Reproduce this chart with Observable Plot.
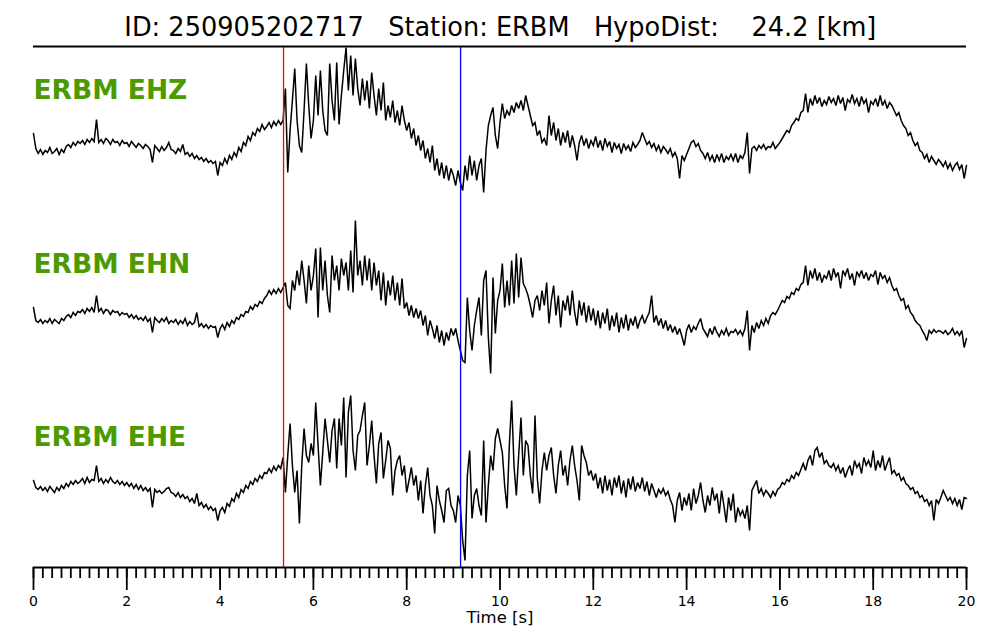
<!DOCTYPE html>
<html><head><meta charset="utf-8">
<script src="https://cdn.jsdelivr.net/npm/d3@7"></script>
<script src="https://cdn.jsdelivr.net/npm/@observablehq/plot@0.6"></script>
<style>
html,body{margin:0;padding:0;background:#fff;}
#title{width:1000px;height:40px;box-sizing:border-box;padding-top:14px;text-align:center;font-family:"DejaVu Sans",sans-serif;font-size:26.5px;line-height:1;white-space:pre;color:#000;overflow:visible;}
#title span{display:inline-block;transform-origin:50% 50%;}
#chart svg{display:block;}
</style></head><body>
<div id="title"><span id="tt">ID: 250905202717   Station: ERBM   HypoDist:    24.2 [km]</span></div>
<div id="chart"></div>
<script>
// ---- data ----
const channels = ["ERBM EHZ", "ERBM EHN", "ERBM EHE"];
const sampleInterval = 0.05; // s
const ehz = [
17,2,-3,1,-4,0,-2,3,-3,-1,2,-4,1,-2,4,6,3,8,5,9,
7,10,6,11,8,12,9,31,8,11,7,12,10,6,11,8,9,5,10,7,
8,4,9,6,3,7,5,2,6,4,1,-12,5,2,-1,4,0,3,8,1,
0,-3,2,-1,6,-4,-2,-6,-3,-8,-5,-9,-7,-11,-8,-12,-10,-13,-11,-25,
-12,-15,-8,-13,-5,-9,-2,-6,3,-1,8,5,14,10,18,15,22,19,26,21,
24,28,23,29,25,30,26,30,62,-22,20,50,82,30,5,-2,40,87,45,12,
30,75,35,80,40,20,15,87,50,30,88,26,55,80,103,60,95,55,92,62,
45,72,50,70,42,78,55,35,62,40,68,30,45,33,50,28,40,25,45,30,
20,28,12,22,5,15,0,10,-8,2,-12,5,-20,-8,-25,-12,-28,-15,-30,-18,
-25,-35,-20,-32,-40,-15,-30,-5,-25,-10,-30,-15,-8,-42,0,25,35,43,15,2,
28,47,32,40,35,45,38,48,42,50,40,55,45,35,25,28,15,20,8,12,
5,35,15,28,10,22,5,18,8,20,3,15,5,-10,8,15,5,12,2,10,
5,14,3,10,0,12,4,9,-2,8,2,6,-3,7,1,5,-1,8,3,6,
10,18,12,6,9,3,7,0,5,-2,4,1,-3,2,-6,-2,-8,-28,-5,-10,
-4,2,8,10,4,7,0,-3,-8,-2,-10,-5,-12,-4,-10,-3,-12,-6,-9,-4,
-10,-3,-12,-5,-8,-2,18,-23,2,4,0,5,2,6,1,4,3,8,2,5,
8,12,16,20,18,25,28,32,30,38,40,57,38,52,45,55,47,53,44,50,
46,54,48,52,45,55,47,53,40,51,48,56,47,52,44,54,47,51,38,49,
46,52,44,55,45,50,42,48,45,40,35,38,30,25,22,15,18,10,5,8,
0,-2,-8,-4,-12,-6,-10,-14,-9,-12,-16,-11,-18,-13,-20,-15,-12,-19,-14,-28,-15
];
const ehn = [
13,0,-2,1,-3,0,-2,2,-3,1,-1,-3,2,0,4,6,3,8,5,9,
8,11,7,12,9,13,8,25,9,12,7,11,10,6,10,8,9,5,8,6,
7,3,6,2,5,1,3,0,4,-1,2,-12,3,0,-2,2,-1,3,-3,0,
-2,1,-4,0,-3,2,-5,-1,-4,-2,8,-6,-3,-7,-4,-8,-5,-7,-6,-17,
-8,-4,-9,-2,-6,0,-3,3,1,6,4,9,8,14,11,16,14,19,17,22,
25,30,26,31,27,32,28,33,38,15,12,40,30,50,35,60,40,17,55,30,
45,72,3,73,30,60,25,8,65,40,55,30,62,45,58,30,70,28,100,45,
60,35,65,40,62,30,58,35,50,20,48,15,40,25,45,20,38,15,42,12,
18,5,15,3,12,2,10,-5,5,-15,0,-8,-18,-5,-22,-10,-25,-12,-20,-8,
-15,-8,-20,-30,-40,-42,23,-10,-30,-5,10,23,-15,40,50,-17,-53,43,-13,20,
30,57,13,40,15,60,17,67,23,63,37,32,25,15,3,20,25,10,30,15,
38,-3,20,35,5,25,-7,20,10,25,5,30,8,-5,20,5,18,-2,15,0,
12,-5,10,-8,8,-3,12,-10,5,-6,8,-12,3,-8,6,-10,2,-5,4,-8,
0,5,-3,3,8,25,-2,5,-5,2,-8,0,-10,-4,-12,-6,-14,-8,-16,-25,
-10,-4,-12,-6,-9,-3,2,-8,-12,-16,-8,-14,-6,-12,-16,-10,-14,-8,-15,-11,
-12,-9,-14,-10,-15,-8,10,-30,-5,-12,-2,-8,0,-5,2,-3,5,8,6,10,
15,20,18,24,22,28,26,32,30,36,38,55,35,50,42,52,40,48,38,45,
42,50,40,52,44,48,32,50,45,52,41,47,35,49,44,50,42,48,40,46,
44,50,36,48,42,45,38,43,35,30,32,25,20,22,12,15,8,5,0,-3,
-5,-10,-14,-20,-10,-13,-9,-12,-10,-11,-13,-10,-14,-12,-8,-14,-11,-15,-10,-27,-18
];
const ehe = [
5,-2,-4,-1,-5,-2,-6,-1,-4,-7,-2,-5,0,-3,2,-1,4,1,5,2,
4,7,2,8,3,6,5,20,4,7,2,6,3,8,4,2,5,1,4,0,
3,-1,2,-3,1,-4,0,-5,-2,-6,-3,-22,-4,-7,-5,-8,-6,-3,-2,-7,
-8,-11,-7,-12,-9,-13,-11,-16,-13,-18,-8,-20,-17,-22,-19,-24,-21,-25,-23,-35,
-25,-22,-27,-18,-21,-13,-16,-8,-12,-4,-7,0,-3,4,1,7,4,10,7,13,
12,17,13,19,15,20,17,28,-7,30,62,20,-7,15,-38,20,57,30,23,42,
30,83,40,0,33,67,45,23,55,67,17,67,40,88,8,73,90,35,15,50,
55,70,83,20,40,65,30,2,42,53,7,25,45,37,-10,15,25,30,10,20,
-7,5,18,0,10,-15,5,-28,0,18,-10,-20,-48,0,-15,-25,-37,-5,-3,-20,
-25,-37,-10,-20,-55,-75,10,35,-33,-10,-3,-20,-30,45,-37,0,30,15,47,57,
45,33,0,-23,40,85,20,-10,30,68,10,45,40,10,-8,70,7,-18,15,33,
15,30,38,10,-8,20,35,10,20,0,25,40,20,5,-15,40,30,23,10,15,
5,12,-3,8,-8,10,-5,6,-10,8,-2,10,-8,5,-12,7,-4,9,-6,3,
-3,8,-6,4,-10,2,-5,-12,-4,-8,-3,-10,-6,-14,-20,-37,-15,-7,-25,-12,
-20,-8,-25,-3,-18,-10,3,-15,-27,-10,-20,-2,-15,-8,-28,-5,-20,-37,-12,-25,
-8,-37,-22,-30,-25,-33,-20,-45,-5,0,5,-8,-3,-10,-5,-8,-12,-6,-10,-4,
-2,3,1,6,4,10,7,13,10,16,22,15,25,30,20,35,38,28,33,22,
25,20,18,22,15,20,12,18,8,15,20,10,25,18,22,12,28,20,25,18,
35,15,25,18,30,15,22,28,12,15,10,12,5,8,2,0,-4,-2,-8,-6,
-12,-10,-16,-14,-20,-15,-35,-14,-18,-12,-5,-10,-15,-12,-18,-13,-20,-14,-24,-12,-13
];
const picks = [{phase: "P", time: 5.36, color: "red"}, {phase: "S", time: 9.155, color: "blue"}];
const majorTicks = [0, 2, 4, 6, 8, 10, 12, 14, 16, 18, 20];
const minorStep = 0.2;
const xLabel = "Time [s]";

// ---- layout ----
const traces = [ehz, ehn, ehe];
const frameH = 521;
const panelH = frameH / 3;
const baselines = [-104, -274, -439];
const rows = traces.flatMap((vals, k) =>
  vals.map((v, i) => ({t: i * sampleInterval, y: baselines[k] + v, ch: channels[k]})));
const minorTicks = d3.range(0, Math.round(20 / minorStep) + 1).map(i => +(i * minorStep).toFixed(1));
const labels = channels.map((c, k) => ({c, y: -k * panelH - 44}));

// title: condensed to the reference's width
const tt = document.getElementById("tt");
const w = tt.getBoundingClientRect().width;
tt.style.transform = `scaleX(${752 / w})`;

const chart = Plot.plot({
  width: 1000,
  height: 600,
  marginTop: 6,
  marginBottom: 73,
  marginLeft: 33,
  marginRight: 34,
  style: {fontFamily: "DejaVu Sans, sans-serif", background: "#fff", color: "#000"},
  x: {domain: [0, 20]},
  y: {domain: [-frameH, 0], axis: null},
  marks: [
    Plot.line(rows, {x: "t", y: "y", z: "ch", stroke: "black", strokeWidth: 1.5, strokeLinejoin: "miter", strokeMiterlimit: 3}),
    Plot.ruleX(picks, {x: "time", stroke: "color", strokeWidth: 1.3}),
    Plot.ruleY([0, -frameH], {stroke: "black", strokeWidth: 1.8}),
    Plot.axisX(minorTicks, {tickSize: 11, strokeWidth: 1.8, tickFormat: () => "", label: null}),
    Plot.axisX(majorTicks, {tickSize: 23, strokeWidth: 1.8, tickPadding: 6, fontSize: 14, label: null, tickFormat: d => String(d)}),
    Plot.text([xLabel], {frameAnchor: "bottom", dy: 50, lineAnchor: "middle", fontSize: 16.5, text: d => d}),
    Plot.text(labels, {x: 0, y: "y", text: "c", textAnchor: "start", fontSize: 26.5, fontWeight: "bold", fill: "#4a9a00"})
  ]
});
document.getElementById("chart").appendChild(chart);
</script>
</body></html>
